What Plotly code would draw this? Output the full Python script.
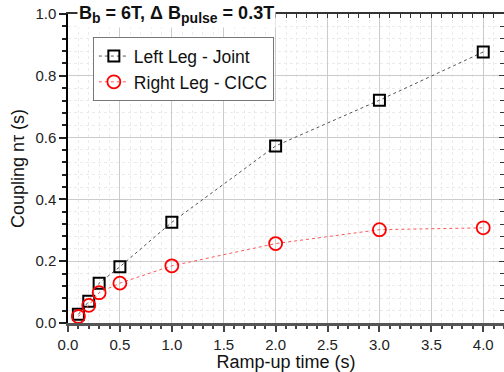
import plotly.graph_objects as go

ramp_time = [0.1, 0.2, 0.3, 0.5, 1.0, 2.0, 3.0, 4.0]
left_leg_joint = [0.028, 0.070, 0.129, 0.182, 0.326, 0.573, 0.721, 0.877]
right_leg_cicc = [0.021, 0.057, 0.098, 0.129, 0.185, 0.257, 0.302, 0.308]

FONT = "Liberation Sans, Arial, sans-serif"

fig = go.Figure()
fig.add_trace(go.Scatter(
    x=ramp_time, y=left_leg_joint, mode="lines+markers", name="Left Leg - Joint",
    line=dict(color="#555555", width=1, dash="dot"),
    marker=dict(symbol="square-open", size=11, color="black", line=dict(width=2, color="#111111")),
))
fig.add_trace(go.Scatter(
    x=ramp_time, y=right_leg_cicc, mode="lines+markers", name="Right Leg - CICC",
    line=dict(color="#ff5555", width=1, dash="dot"),
    marker=dict(symbol="circle-open", size=13, color="red", line=dict(width=1.8, color="#ff1010")),
))
# invisible trace to materialise the mirror axes
fig.add_trace(go.Scatter(x=[0], y=[0], xaxis="x2", yaxis="y2", mode="markers",
                         marker=dict(opacity=0), showlegend=False, hoverinfo="skip"))

fig.update_layout(
    width=504, height=372,
    margin=dict(l=68, r=0, t=14, b=46),
    plot_bgcolor="white", paper_bgcolor="white",
    font=dict(family=FONT, color="#222222"),
    showlegend=True,
    legend=dict(x=0.057, y=0.925, xanchor="left", yanchor="top",
                bgcolor="white", bordercolor="#777777", borderwidth=1,
                font=dict(size=17.5, color="#111111", family=FONT), tracegroupgap=0),
    xaxis=dict(
        range=[0, 4.2], tickmode="array", tickvals=[0, 0.5, 1, 1.5, 2, 2.5, 3, 3.5, 4],
        ticktext=["0.0", "0.5", "1.0", "1.5", "2.0", "2.5", "3.0", "3.5", "4.0"],
        ticks="outside", ticklen=6, tickwidth=1.5, tickcolor="#444444",
        showline=True, linecolor="#555555", linewidth=2.5,
        showgrid=True, gridcolor="#cccccc", gridwidth=1,
        minor=dict(dtick=0.1, tick0=0, ticks="outside", ticklen=3, tickcolor="#444444",
                   showgrid=True, gridcolor="#ebebeb", griddash="dot", gridwidth=1),
        tickfont=dict(size=15, color="#222222", family=FONT),
        title=dict(text="Ramp-up time (s)", font=dict(size=18, color="#111111", family=FONT), standoff=7),
        zeroline=False,
    ),
    yaxis=dict(
        range=[0, 1.0], tickmode="array", tickvals=[0, 0.2, 0.4, 0.6, 0.8, 1.0],
        ticktext=["0.0", "0.2", "0.4", "0.6", "0.8", "1.0"],
        ticks="outside", ticklen=7, tickwidth=1.5, tickcolor="#222222",
        showline=True, linecolor="black", linewidth=1.5,
        showgrid=True, gridcolor="#cccccc", gridwidth=1,
        minor=dict(dtick=0.04, tick0=0, ticks="outside", ticklen=4, tickcolor="#222222",
                   showgrid=True, gridcolor="#ebebeb", griddash="dot", gridwidth=1),
        tickfont=dict(size=15, color="#222222", family=FONT),
        title=dict(text="Coupling nτ (s)", font=dict(size=18, color="#111111", family=FONT), standoff=6),
        zeroline=False,
    ),
    xaxis2=dict(
        overlaying="x", side="top", anchor="y", matches="x", range=[0, 4.2],
        showticklabels=False, showgrid=False, zeroline=False,
        showline=True, linecolor="#333333", linewidth=1.5,
        tickmode="linear", tick0=0, dtick=0.1, ticks="inside", ticklen=4, tickcolor="#333333",
    ),
    yaxis2=dict(
        overlaying="y", side="right", anchor="x", matches="y", range=[0, 1.0],
        showticklabels=False, showgrid=False, zeroline=False,
        showline=True, linecolor="#333333", linewidth=1.5,
        tickmode="linear", tick0=0, dtick=0.2, ticks="inside", ticklen=5, tickcolor="#333333",
        minor=dict(dtick=0.04, tick0=0, ticks="inside", ticklen=4, tickcolor="#333333"),
    ),
    annotations=[dict(
        xref="paper", yref="paper", x=0.02, y=1.0, xanchor="left", yanchor="middle",
        text=("<b>B<sub><span style='font-size:14px'>b</span></sub> = 6T, Δ "
              "B<sub><span style='font-size:14px'>pulse</span></sub> = 0.3T</b>"),
        showarrow=False, bgcolor="white", borderpad=1,
        font=dict(size=18, color="#111111", family=FONT),
    )],
)

fig.write_html("out.html")
